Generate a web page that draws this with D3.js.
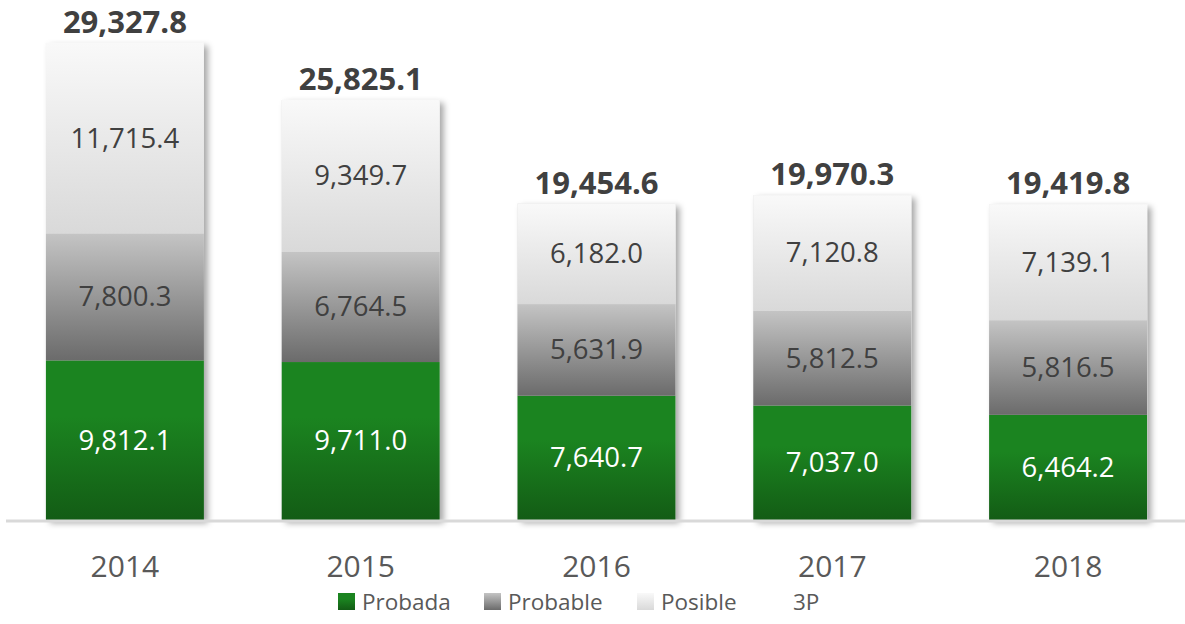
<!DOCTYPE html>
<html>
<head>
<meta charset="utf-8">
<script src="https://cdn.jsdelivr.net/npm/d3@7"></script>
<style>
  body { margin: 0; background: #fff; }
  svg { display: block; font-family: "Open Sans", sans-serif; }
</style>
</head>
<body>
<svg id="chart" width="1185" height="624"></svg>
<script>
const years = ['2014', '2015', '2016', '2017', '2018'];
const probada = [9812.1, 9711.0, 7640.7, 7037.0, 6464.2];
const probable = [7800.3, 6764.5, 5631.9, 5812.5, 5816.5];
const posible = [11715.4, 9349.7, 6182.0, 7120.8, 7139.1];
const totals3P = [29327.8, 25825.1, 19454.6, 19970.3, 19419.8];
const seriesNames = ['Probada', 'Probable', 'Posible', '3P'];

const width = 1185;
const baseY = 520;

const svg = d3.select('#chart');
const defs = svg.append('defs');

// gradients for each series
const gradients = [
  { id: 'g-probada', top: '#1b8420', bottom: '#135c15' },
  { id: 'g-probable', top: '#c4c4c4', bottom: '#6b6b6b' },
  { id: 'g-posible', top: '#f9f9f9', bottom: '#d9d9d9' },
];
gradients.forEach(g => {
  const lg = defs.append('linearGradient')
    .attr('id', g.id)
    .attr('x1', 0).attr('y1', 0).attr('x2', 0).attr('y2', 1);
  lg.append('stop').attr('offset', '0%').attr('stop-color', g.top);
  lg.append('stop').attr('offset', g.id === 'g-probada' ? '35%' : '0%').attr('stop-color', g.top);
  lg.append('stop').attr('offset', '100%').attr('stop-color', g.bottom);
});

defs.append('filter')
  .attr('id', 'shadow')
  .attr('x', '-10%').attr('y', '-10%').attr('width', '130%').attr('height', '130%')
  .append('feDropShadow')
  .attr('dx', 4).attr('dy', 3)
  .attr('stdDeviation', 3)
  .attr('flood-color', '#000')
  .attr('flood-opacity', 0.35);

const x = d3.scaleBand()
  .domain(years)
  .range([7, 1186])
  .paddingInner(0.33)
  .paddingOuter(0.165);

const y = d3.scaleLinear()
  .domain([0, 30000])
  .range([baseY, 32]);

const rows = years.map((yr, i) => ({ year: yr, probada: probada[i], probable: probable[i], posible: posible[i] }));
const stack = d3.stack().keys(['probada', 'probable', 'posible'])(rows);
const fills = ['url(#g-probada)', 'url(#g-probable)', 'url(#g-posible)'];
const labelColors = ['#ffffff', '#404040', '#404040'];

// shadow behind whole bar
svg.append('g')
  .selectAll('rect')
  .data(years)
  .join('rect')
  .attr('x', d => x(d))
  .attr('width', x.bandwidth())
  .attr('y', (d, i) => y(totals3P[i]))
  .attr('height', (d, i) => baseY - y(totals3P[i]))
  .attr('fill', '#ddd')
  .attr('filter', 'url(#shadow)');

stack.forEach((layer, li) => {
  const g = svg.append('g');
  g.selectAll('rect')
    .data(layer)
    .join('rect')
    .attr('x', d => x(d.data.year))
    .attr('width', x.bandwidth())
    .attr('y', d => y(d[1]))
    .attr('height', d => y(d[0]) - y(d[1]))
    .attr('fill', fills[li]);
  g.selectAll('text')
    .data(layer)
    .join('text')
    .attr('x', d => x(d.data.year) + x.bandwidth() / 2)
    .attr('y', d => (y(d[0]) + y(d[1])) / 2 + 2)
    .attr('text-anchor', 'middle')
    .attr('dominant-baseline', 'middle')
    .attr('fill', labelColors[li])
    .attr('font-size', '27.5px')
    .text(d => d3.format(',.1f')(d[1] - d[0]));
});

// axis line
svg.append('line')
  .attr('x1', 6).attr('x2', width)
  .attr('y1', baseY + 1).attr('y2', baseY + 1)
  .attr('stroke', '#d9d9d9')
  .attr('stroke-width', 3);

// totals
svg.append('g')
  .selectAll('text')
  .data(years)
  .join('text')
  .attr('x', d => x(d) + x.bandwidth() / 2)
  .attr('y', (d, i) => y(totals3P[i]) - 10)
  .attr('text-anchor', 'middle')
  .attr('fill', '#404040')
  .attr('font-size', '31px')
  .attr('font-weight', 700)
  .text((d, i) => d3.format(',.1f')(totals3P[i]));

// x axis labels
const xAxis = d3.axisBottom(x).tickSize(0).tickPadding(0);
const axisG = svg.append('g')
  .attr('transform', `translate(0, ${baseY})`)
  .call(xAxis);
axisG.select('.domain').remove();
axisG.selectAll('.tick text')
  .attr('dy', 0)
  .attr('y', 57)
  .attr('fill', '#595959')
  .attr('font-family', '"Open Sans", sans-serif')
  .attr('font-size', '30px');

// legend
const legendX = [338, 484, 637, 793];
const legendFills = ['url(#g-probada)', 'url(#g-probable)', 'url(#g-posible)', 'none'];
const legend = svg.append('g');
seriesNames.forEach((name, i) => {
  if (legendFills[i] !== 'none') {
    legend.append('rect')
      .attr('x', legendX[i]).attr('y', 593)
      .attr('width', 17).attr('height', 17)
      .attr('fill', legendFills[i]);
    legend.append('text')
      .attr('x', legendX[i] + 24).attr('y', 610)
      .attr('fill', '#595959')
      .attr('font-size', '22.5px')
      .text(name);
  } else {
    legend.append('text')
      .attr('x', legendX[i]).attr('y', 610)
      .attr('fill', '#595959')
      .attr('font-size', '22.5px')
      .text(name);
  }
});
</script>
</body>
</html>
